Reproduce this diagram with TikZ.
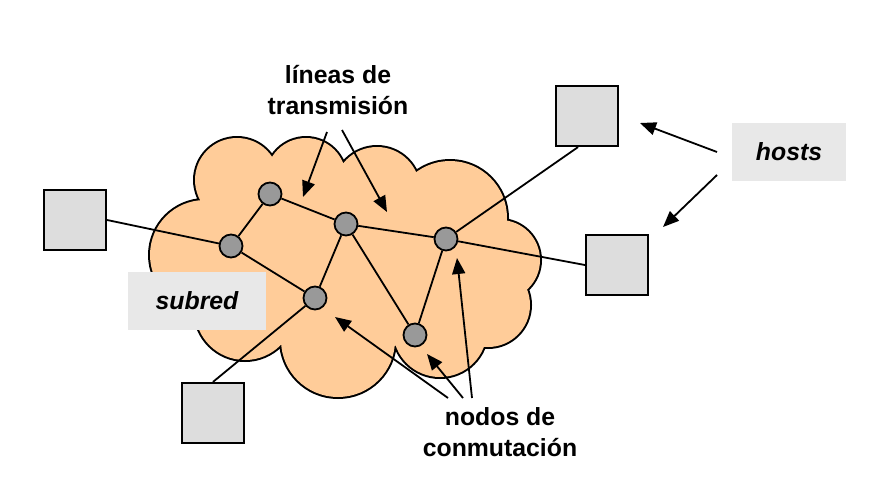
\documentclass[tikz,border=0pt]{standalone}
\usepackage{fontspec}
\setmainfont{Liberation Sans}
\usetikzlibrary{arrows.meta,positioning}
\definecolor{cloudpeach}{RGB}{255,204,153}
\definecolor{routergray}{RGB}{153,153,153}
\definecolor{hostgray}{RGB}{221,221,221}
\definecolor{labelgray}{RGB}{232,232,232}

\begin{document}
\begin{tikzpicture}[x=0.5pt, y=-0.5pt,
        router/.style={draw, circle, minimum size=11.5pt, inner sep=0pt, fill=routergray, line width=0.9pt},
        host/.style={draw, rectangle, minimum width=31pt, minimum height=30pt, inner sep=0pt, fill=hostgray, line width=1.1pt},
        tag/.style={rectangle, fill=labelgray, inner sep=0pt, font=\fontsize{12.4}{15.5}\selectfont\bfseries\itshape},
        caption/.style={align=center, font=\fontsize{12.4}{15.5}\selectfont\bfseries},
        link/.style={line width=0.9pt},
        pointer/.style={line width=0.9pt, -{Triangle[length=8pt, width=6.5pt]}}
    ]
        \useasboundingbox (0,0) rectangle (881,503);

        % 1. The cloud (subnet)
        \def\puffs{(205,255) circle (55) (237,180) circle (42) (306,178) circle (40)
            (377,190) circle (43) (450,218) circle (57) (500,260) circle (40)
            (488,305) circle (42) (440,330) circle (47) (338,340) circle (57)
            (245,310) circle (50) (340,262) ellipse (150 and 90)}
        \draw[line width=2pt] \puffs;
        \fill[cloudpeach] \puffs;

        % 2. Switching nodes
        \node[router] (r1) at (270,194) {};
        \node[router] (r2) at (231,246) {};
        \node[router] (r3) at (346,224) {};
        \node[router] (r4) at (446,239) {};
        \node[router] (r5) at (315,298) {};
        \node[router] (r6) at (415,335) {};

        % 3. Hosts
        \node[host] (h1) at (75,220) {};
        \node[host] (h2) at (587,116) {};
        \node[host] (h3) at (617,265) {};
        \node[host] (h4) at (213,413) {};

        % Transmission lines
        \draw[link] (r1) -- (r2);
        \draw[link] (r1) -- (r3);
        \draw[link] (r3) -- (r4);
        \draw[link] (r2) -- (r5);
        \draw[link] (r3) -- (r5);
        \draw[link] (r3) -- (r6);
        \draw[link] (r4) -- (r6);
        \draw[link] (h1.east) -- (r2);
        \draw[link] ([xshift=-4.5pt]h2.south) -- (r4);
        \draw[link] (h3.west) -- (r4);
        \draw[link] (h4.north) -- (r5);

        % 4. Labels
        \node[tag, minimum width=69pt, minimum height=29pt] (subred) at (197,301) {subred};
        \node[tag, minimum width=57pt, minimum height=29pt] (hosts) at (789,152) {hosts};
        \node[caption] (lineas) at (338,90) {líneas de\\transmisión};
        \node[caption] (nodos) at (500,432) {nodos de\\conmutación};

        % Arrows
        \coordinate (la) at (327,132);
        \coordinate (lb) at (342,130);
        \coordinate (ha) at (717,152);
        \coordinate (hb) at (717,175);
        \coordinate (na) at (448,398);
        \coordinate (nb) at (463,398);
        \coordinate (nc) at (472,398);
        \coordinate (ta) at (303,197);
        \coordinate (tb) at (387,212);
        \coordinate (tc) at (640,123);
        \coordinate (td) at (663,227);
        \coordinate (te) at (335,317);
        \coordinate (tf) at (427,354);
        \coordinate (tg) at (457,258);
        \draw[pointer] (la) -- (ta);
        \draw[pointer] (lb) -- (tb);
        \draw[pointer] (ha) -- (tc);
        \draw[pointer] (hb) -- (td);
        \draw[pointer] (na) -- (te);
        \draw[pointer] (nb) -- (tf);
        \draw[pointer] (nc) -- (tg);

    \end{tikzpicture}
\end{document}
